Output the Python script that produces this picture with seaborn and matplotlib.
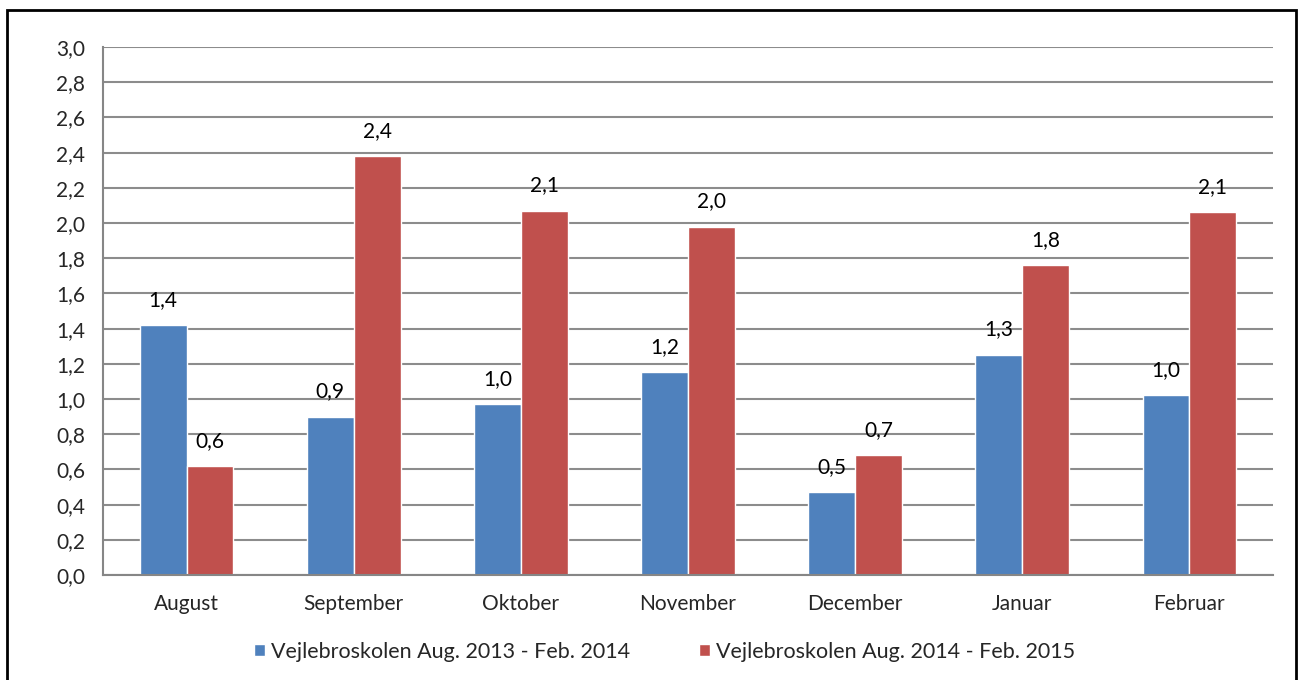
import pandas as pd
import numpy as np
import seaborn as sns
import matplotlib.pyplot as plt
from matplotlib.patches import Rectangle

months = ['August', 'September', 'Oktober', 'November', 'December', 'Januar', 'Februar']
series = ['Vejlebroskolen Aug. 2013 - Feb. 2014', 'Vejlebroskolen Aug. 2014 - Feb. 2015']
vals_2013 = [1.42, 0.90, 0.97, 1.153, 0.47, 1.252, 1.02]
vals_2014 = [0.62, 2.38, 2.07, 1.98, 0.68, 1.76, 2.06]
colors = ['#4F81BD', '#C0504D']
yticks = np.arange(0, 3.01, 0.2)

df = pd.DataFrame({
    'month': months * 2,
    'value': vals_2013 + vals_2014,
    'series': [series[0]] * len(months) + [series[1]] * len(months),
})

sns.set_style('white')
plt.rcParams['font.family'] = ['Lato', 'DejaVu Sans']
fs = 15

fig = plt.figure(figsize=(13, 6.8), dpi=100)
ax = fig.add_axes([103 / 1300, 1 - 575 / 680, 1170 / 1300, 528 / 680])

sns.barplot(data=df, x='month', y='value', hue='series', palette=colors,
            saturation=1, width=0.56, edgecolor='white', linewidth=1, ax=ax)

# data labels with decimal comma
for cont in ax.containers:
    for bar in cont:
        h = bar.get_height()
        ax.annotate(f'{h:.1f}'.replace('.', ','), (bar.get_x() + bar.get_width() / 2, h),
                    xytext=(0, 11), textcoords='offset points', ha='center', va='bottom',
                    fontsize=fs, color='black')

ax.set_ylim(0, 3.0)
ax.set_xlim(-0.5, len(months) - 0.5)
ax.set_yticks(yticks)
ax.set_yticklabels([f'{t:.1f}'.replace('.', ',') for t in yticks], fontsize=fs)
ax.set_xticks(range(len(months)))
ax.set_xticklabels(months, fontsize=fs)
ax.set_xticks(np.arange(-0.5, len(months), 1), minor=True)
ax.tick_params(axis='x', which='major', length=0, pad=14)
ax.tick_params(axis='x', which='minor', length=7, color='#868686', width=1.2)
ax.tick_params(axis='y', length=7, color='#868686', width=1.2, pad=6)
ax.set_xlabel('')
ax.set_ylabel('')

ax.yaxis.grid(True, color='#8c8c8c', linewidth=1.5)
ax.set_axisbelow(True)
for s in ['top', 'right']:
    ax.spines[s].set_visible(False)
for s in ['left', 'bottom']:
    ax.spines[s].set_color('#868686')
    ax.spines[s].set_linewidth(1.5)

ax.legend(loc='center', bbox_to_anchor=(0.48, -0.145), ncol=2, frameon=False,
          fontsize=15.5, handlelength=0.5, handleheight=0.5, handletextpad=0.3,
          columnspacing=3.2)

fig.patches.append(Rectangle((7 / 1300, -0.02), 1289 / 1300, 1.02 - 10 / 680,
                             transform=fig.transFigure, fill=False,
                             edgecolor='black', linewidth=2))

fig.savefig('out.png', dpi=100)
